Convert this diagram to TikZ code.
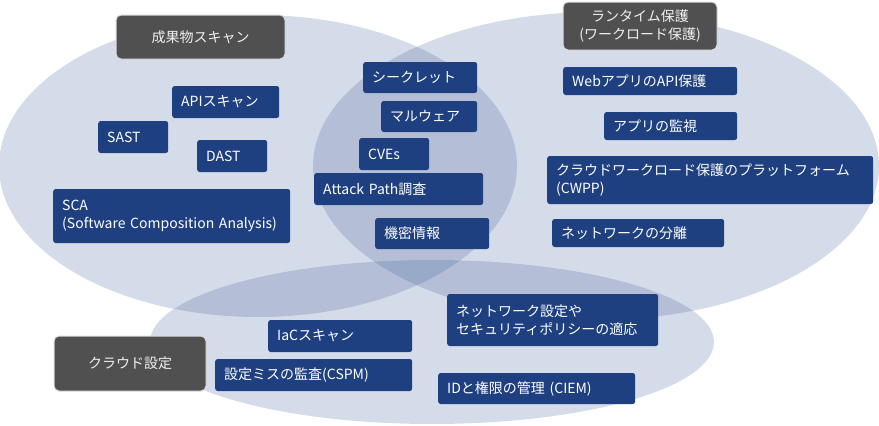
\documentclass[tikz,border=0pt]{standalone}
\usepackage{fontspec}
\setmainfont{Noto Sans CJK JP}
\usepackage{xcolor}
\usepackage{tikz}
\usetikzlibrary{backgrounds}
\definecolor{ZoneTint}{HTML}{2F4F8F}
\definecolor{ItemBlue}{HTML}{1E3F80}
\definecolor{HeadGray}{HTML}{505050}
\definecolor{HeadRule}{HTML}{DCDCDC}

\begin{document}
\begin{tikzpicture}[x=1pt, y=-1pt,
  font=\fontsize{14pt}{18pt}\selectfont,
  zone/.style={fill=ZoneTint, fill opacity=0.2},
  head/.style={draw=HeadRule, line width=1pt, fill=HeadGray, rounded corners=5pt,
               text=white!94!black, align=center, inner sep=0pt},
  item/.style={fill=ItemBlue, rounded corners=2.5pt, text=white, anchor=west,
               align=left, inner xsep=9pt, inner ysep=0pt},
]
\useasboundingbox (0,0) rectangle (879,426);

%% ---- the three areas ----
\fill[zone] (258,166) ellipse [x radius=259, y radius=151];
\fill[zone] (596,166) ellipse [x radius=283, y radius=154];
\fill[zone] (432,342) ellipse [x radius=282, y radius=82];

%% ---- headings ----
\node[head, minimum width=169pt, minimum height=44pt] (art) at (200.5,37) {成果物スキャン};
\node[head, minimum width=154pt, minimum height=48pt] (run) at (640,26)
  {ランタイム保護\\(ワークロード保護)};
\node[head, minimum width=152pt, minimum height=55pt] (cld) at (130,363.5) {クラウド設定};

%% ---- artifact scan ----
\node[item, text width=89pt, minimum height=32pt] (api) at (172,102) {APIスキャン};
\node[item, text width=52pt, minimum height=32pt] (sast) at (98,137) {SAST};
\node[item, text width=52pt, minimum height=32pt] (dast) at (197,156) {DAST};
\node[item, text width=219pt, minimum height=54pt] (sca) at (53,216)
  {SCA\\(Software Composition Analysis)};

%% ---- shared by all ----
\node[item, text width=96pt, minimum height=31pt] (secret) at (363,77.5) {シークレット};
\node[item, text width=78pt, minimum height=31pt] (malware) at (381,116.5) {マルウェア};
\node[item, text width=52pt, minimum height=32pt] (cves) at (359,154) {CVEs};
\node[item, text width=151pt, minimum height=32pt] (attack) at (314,189) {Attack Path調査};
\node[item, text width=96pt, minimum height=31pt] (secinfo) at (375,233.5) {機密情報};

%% ---- runtime protection ----
\node[item, text width=156pt, minimum height=28pt] (webapi) at (563,81) {WebアプリのAPI保護};
\node[item, text width=115pt, minimum height=28pt] (appmon) at (604,126) {アプリの監視};
\node[item, text width=308pt, minimum height=48pt] (cwpp) at (547,180)
  {クラウドワークロード保護のプラットフォーム\\(CWPP)};
\node[item, text width=154pt, minimum height=28pt] (netiso) at (552,233) {ネットワークの分離};

%% ---- cloud configuration ----
\node[item, text width=126pt, minimum height=32pt] (iac) at (268,336) {IaCスキャン};
\node[item, text width=179pt, minimum height=32pt] (cspm) at (215,375) {設定ミスの監査(CSPM)};
\node[item, text width=193pt, minimum height=52pt] (netpol) at (447,320)
  {ネットワーク設定や\\セキュリティポリシーの適応};
\node[item, text width=179pt, minimum height=31pt] (ciem) at (438,388.5) {IDと権限の管理 (CIEM)};
\end{tikzpicture}
\end{document}
